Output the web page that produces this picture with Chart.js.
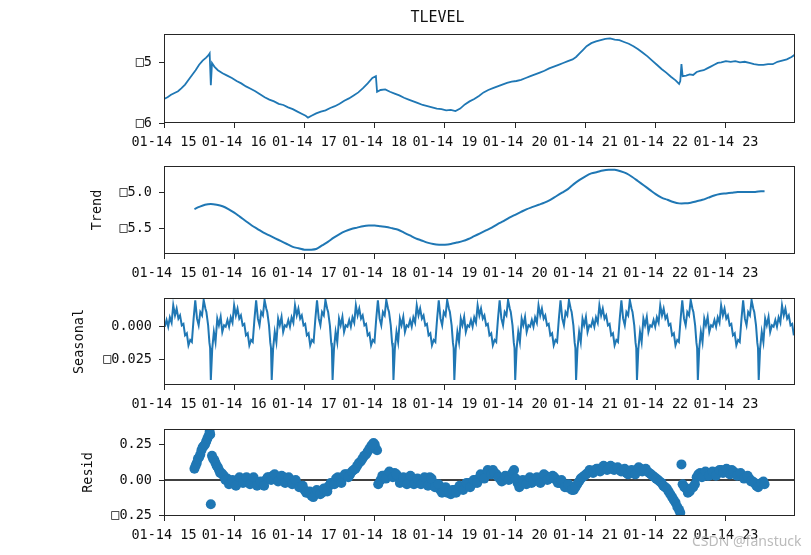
<!DOCTYPE html>
<html>
<head>
<meta charset="utf-8">
<script src="https://cdn.jsdelivr.net/npm/chart.js@4.4.0/dist/chart.umd.min.js"></script>
<style>
body { margin: 0; background: #fff; }
#wrap { position: relative; width: 811px; height: 555px; overflow: hidden; }
canvas { position: absolute; left: 0; }
#mark { position: absolute; left: 692px; top: 531px; font: 14px "Noto Sans"; color: rgba(175,175,175,0.85); }
</style>
</head>
<body>
<div id="wrap">
<canvas id="c1" width="811" height="153" style="top:0px"></canvas>
<canvas id="c2" width="811" height="134" style="top:150px"></canvas>
<canvas id="c3" width="811" height="133" style="top:282px"></canvas>
<canvas id="c4" width="811" height="133" style="top:413px"></canvas>
<div id="mark">CSDN @fanstuck</div>
</div>
<script>
// minutes since 01-14 15:00
const xTickMinutes = [0, 60, 120, 180, 240, 300, 360, 420, 480]
const xTickLabels = ['01-14 15', '01-14 16', '01-14 17', '01-14 18', '01-14 19', '01-14 20', '01-14 21', '01-14 22', '01-14 23']

const obsMinute = [0,3,6,9,12,15,18,21,24,27,30,33,36,38,39,40,41,43,46,50,54,58,62,66,70,74,78,82,86,90,94,98,102,106,110,114,118,121,123,126,130,134,138,142,146,150,154,158,162,166,170,174,178,181,182,185,189,193,197,201,205,209,213,217,221,225,229,233,237,241,245,249,253,257,261,265,269,273,277,281,285,289,293,297,301,305,309,313,317,321,325,329,333,337,341,345,349,352,355,358,361,365,369,373,377,381,385,389,393,397,401,405,409,413,417,421,425,429,433,437,440,441,442,443,446,449,452,455,458,461,464,467,470,473,476,480,484,488,492,496,500,504,508,512,516,520,524,528,532,536,539]
const obsLevel = [-5.60,-5.57,-5.53,-5.50,-5.47,-5.42,-5.36,-5.28,-5.20,-5.12,-5.03,-4.96,-4.91,-4.87,-4.84,-5.37,-5.00,-5.06,-5.12,-5.17,-5.21,-5.25,-5.30,-5.34,-5.39,-5.43,-5.47,-5.52,-5.57,-5.61,-5.64,-5.68,-5.70,-5.74,-5.77,-5.81,-5.85,-5.88,-5.91,-5.88,-5.84,-5.81,-5.79,-5.75,-5.72,-5.68,-5.63,-5.59,-5.54,-5.49,-5.42,-5.34,-5.25,-5.22,-5.48,-5.45,-5.44,-5.48,-5.51,-5.54,-5.58,-5.61,-5.64,-5.67,-5.70,-5.72,-5.74,-5.76,-5.77,-5.79,-5.78,-5.80,-5.76,-5.69,-5.64,-5.60,-5.55,-5.49,-5.45,-5.42,-5.39,-5.36,-5.33,-5.31,-5.30,-5.28,-5.25,-5.22,-5.19,-5.16,-5.13,-5.09,-5.06,-5.03,-5.00,-4.97,-4.94,-4.90,-4.84,-4.78,-4.72,-4.67,-4.64,-4.62,-4.60,-4.59,-4.61,-4.62,-4.65,-4.68,-4.72,-4.77,-4.83,-4.89,-4.96,-5.03,-5.10,-5.16,-5.23,-5.29,-5.35,-5.30,-5.02,-5.22,-5.21,-5.19,-5.20,-5.15,-5.13,-5.12,-5.09,-5.06,-5.03,-5.00,-4.99,-4.97,-4.98,-4.97,-4.99,-4.98,-5.00,-5.02,-5.03,-5.03,-5.02,-5.02,-4.98,-4.96,-4.94,-4.90,-4.86]

const trendMinute = [26,30,35,40,45,50,55,60,65,70,75,80,85,90,95,100,105,110,115,120,125,130,135,140,145,150,155,160,165,170,175,180,185,190,195,200,205,210,215,220,225,230,235,240,245,250,255,260,265,270,275,280,285,290,295,300,305,310,315,320,325,330,335,340,345,350,355,360,365,370,375,380,385,390,395,400,405,410,415,420,425,430,435,440,445,450,455,460,465,470,475,480,485,490,495,500,505,510,513]
const trendLevel = [-5.23,-5.20,-5.17,-5.16,-5.17,-5.19,-5.23,-5.28,-5.34,-5.40,-5.46,-5.51,-5.56,-5.60,-5.64,-5.68,-5.72,-5.76,-5.78,-5.80,-5.80,-5.79,-5.74,-5.69,-5.63,-5.58,-5.54,-5.51,-5.49,-5.47,-5.46,-5.46,-5.47,-5.48,-5.50,-5.52,-5.56,-5.60,-5.64,-5.67,-5.70,-5.72,-5.73,-5.73,-5.72,-5.70,-5.68,-5.65,-5.61,-5.57,-5.53,-5.49,-5.44,-5.40,-5.35,-5.31,-5.27,-5.23,-5.20,-5.17,-5.14,-5.10,-5.05,-5.00,-4.95,-4.88,-4.82,-4.77,-4.73,-4.71,-4.69,-4.68,-4.68,-4.70,-4.73,-4.78,-4.84,-4.90,-4.96,-5.02,-5.07,-5.10,-5.13,-5.15,-5.15,-5.14,-5.12,-5.10,-5.07,-5.04,-5.02,-5.01,-5.00,-4.99,-4.99,-4.99,-4.99,-4.98,-4.98]

// one 52-minute season, offsets measured from the sharp dip
const seasonPeriod = 52
const seasonFirstDip = 40
const seasonOffset = [0,1.2,2.6,4.0,5.5,6.9,8.4,9.8,11.3,12.7,14.2,15.6,17.0,18.5,19.9,21.4,22.8,24.3,25.7,27.2,28.6,30.0,31.5,32.9,34.4,35.8,37.3,38.7,40.2,41.6,43.0,44.5,45.9,47.4,48.2,49.7,50.8,51.4]
const seasonValue = [-0.040,-0.0165,-0.004,-0.0115,0.006,0.001,0.0073,-0.004,0.001,0.0,0.005,0.0,0.007,0.003,0.016,0.0085,0.0135,0.006,0.0085,0.001,0.002,-0.0065,-0.005,-0.014,-0.010,-0.0115,0.006,0.0198,0.006,0.001,0.011,0.0085,0.020,0.0135,0.011,0.001,-0.012,-0.016]

const residMinute = [26,28,30,32,34,36,38,39,40,41,43,45,47,49,51,54,57,60,63,66,69,72,75,78,81,84,87,90,93,96,99,102,105,108,111,114,117,120,123,126,129,132,135,138,141,144,147,150,153,156,159,162,165,168,171,174,177,179,180,181,182,183,185,188,191,194,197,200,203,206,209,212,215,218,221,224,227,230,233,236,239,242,245,248,251,254,257,260,263,266,269,272,275,278,281,284,287,290,293,296,299,302,305,308,311,314,317,320,323,326,329,332,335,338,341,344,347,350,353,356,359,362,365,368,371,374,377,380,383,386,389,392,395,398,401,404,407,410,413,416,419,422,425,428,431,434,437,440,441,442,443,446,449,452,455,458,461,464,467,470,473,476,479,482,485,488,491,494,497,500,503,506,509,512]
const residValue = [0.08,0.12,0.16,0.21,0.24,0.27,0.31,0.34,-0.17,0.17,0.14,0.10,0.07,0.05,0.03,0.01,-0.02,-0.03,-0.01,0.00,0.01,-0.01,0.00,-0.02,-0.03,-0.02,0.00,0.02,0.03,0.01,0.00,0.02,0.00,-0.01,-0.02,-0.03,-0.05,-0.07,-0.09,-0.11,-0.10,-0.08,-0.09,-0.06,-0.04,-0.02,0.01,0.00,0.02,0.04,0.04,0.07,0.10,0.13,0.17,0.20,0.24,0.26,0.25,0.22,0.21,-0.03,0.00,0.03,0.04,0.04,0.05,0.02,0.00,-0.01,0.01,0.00,-0.02,-0.01,0.00,-0.02,0.02,-0.02,-0.05,-0.07,-0.06,-0.09,-0.10,-0.07,-0.06,-0.05,-0.04,-0.02,-0.03,0.00,0.01,0.03,0.04,0.06,0.07,0.04,0.01,0.00,0.02,0.03,0.07,-0.02,-0.03,-0.01,0.00,-0.02,0.01,0.00,0.02,0.03,0.01,0.03,0.00,-0.02,-0.03,-0.05,-0.06,-0.07,-0.03,0.01,0.03,0.05,0.06,0.07,0.08,0.08,0.09,0.08,0.09,0.08,0.07,0.07,0.05,0.06,0.05,0.07,0.08,0.07,0.06,0.04,0.02,0.00,-0.02,-0.05,-0.08,-0.12,-0.16,-0.21,-0.23,0.11,-0.03,-0.06,-0.08,-0.05,0.02,0.05,0.04,0.03,0.05,0.04,0.06,0.07,0.06,0.05,0.07,0.05,0.04,0.03,0.02,0.01,-0.01,-0.04,-0.03,-0.01]
// the in-between minutes that make the residual band thick
const residMinuteB = [27,29,31,33,35,37,39.5,42,44,46,48,50,52.5,55.5,58.5,61.5,64.5,67.5,70.5,73.5,76.5,79.5,82.5,85.5,88.5,91.5,94.5,97.5,100.5,103.5,106.5,109.5,112.5,115.5,118.5,121.5,124.5,127.5,130.5,133.5,136.5,139.5,142.5,145.5,148.5,151.5,154.5,157.5,160.5,163.5,166.5,169.5,172.5,175.5,178,186.5,189.5,192.5,195.5,198.5,201.5,204.5,207.5,210.5,213.5,216.5,219.5,222.5,225.5,228.5,231.5,234.5,237.5,240.5,243.5,246.5,249.5,252.5,255.5,258.5,261.5,264.5,267.5,270.5,273.5,276.5,279.5,282.5,285.5,288.5,291.5,294.5,297.5,300.5,303.5,306.5,309.5,312.5,315.5,318.5,321.5,324.5,327.5,330.5,333.5,336.5,339.5,342.5,345.5,348.5,351.5,354.5,357.5,360.5,363.5,366.5,369.5,372.5,375.5,378.5,381.5,384.5,387.5,390.5,393.5,396.5,399.5,402.5,405.5,408.5,411.5,414.5,417.5,420.5,423.5,426.5,429.5,432.5,435.5,438.5,444.5,447.5,450.5,453.5,456.5,459.5,462.5,465.5,468.5,471.5,474.5,477.5,480.5,483.5,486.5,489.5,492.5,495.5,498.5,501.5,504.5,507.5,510.5,513]
const residValueB = [0.10,0.15,0.18,0.23,0.25,0.29,0.32,0.15,0.12,0.09,0.05,0.04,0.00,-0.03,0.00,-0.04,0.02,-0.02,0.02,-0.03,0.02,-0.04,-0.01,-0.04,0.02,0.00,0.04,-0.01,0.03,-0.02,0.02,-0.03,0.00,-0.05,-0.04,-0.09,-0.08,-0.12,-0.07,-0.10,-0.06,-0.08,-0.02,-0.03,0.02,-0.02,0.04,0.02,0.06,0.08,0.12,0.15,0.18,0.22,0.25,0.03,0.01,0.06,0.02,0.04,-0.02,0.02,-0.03,0.03,-0.03,0.01,-0.03,0.02,-0.04,0.01,-0.05,-0.03,-0.09,-0.05,-0.08,-0.07,-0.09,-0.04,-0.07,-0.02,-0.05,0.00,-0.02,0.04,0.01,0.07,0.04,0.05,0.02,-0.01,0.03,0.00,0.05,0.01,-0.05,0.00,-0.03,0.02,-0.01,0.02,-0.02,0.04,0.00,0.02,0.02,-0.02,0.00,-0.05,-0.03,-0.07,-0.05,-0.01,0.02,0.04,0.07,0.05,0.08,0.06,0.10,0.07,0.10,0.07,0.09,0.06,0.08,0.04,0.07,0.04,0.09,0.06,0.08,0.05,0.03,0.01,-0.01,-0.04,-0.06,-0.10,-0.14,-0.19,-0.05,-0.09,-0.06,-0.03,0.04,0.02,0.06,0.03,0.06,0.03,0.07,0.05,0.08,0.04,0.06,0.03,0.05,0.01,0.03,-0.01,-0.02,-0.05,-0.02,-0.03]

const blue = '#1f77b4'
const xEnd = 539

function pts(xs, ys) {
    return xs.map((x, i) => ({x: x, y: ys[i]}))
}

function seasonalPts() {
    const out = []
    for (let k = -1; k < 11; k++) {
        seasonOffset.forEach((o, i) => {
            const t = seasonFirstDip + k * seasonPeriod + o
            if (t >= 0 && t <= xEnd) out.push({x: t, y: seasonValue[i]})
        })
    }
    return out
}

const frame = {
    id: 'frame',
    afterDatasetsDraw(chart) {
        const a = chart.chartArea, ctx = chart.ctx
        ctx.save()
        ctx.strokeStyle = '#262626'
        ctx.lineWidth = 1
        ctx.strokeRect(Math.round(a.left) + 0.5, Math.round(a.top) + 0.5, Math.round(a.right - a.left) - 1, Math.round(a.bottom - a.top) - 1)
        ctx.restore()
    }
}

const tickFont = {family: 'DejaVu Sans Mono', size: 13.5}

function makePanel(id, p, datasets, title) {
    const ctx = document.getElementById(id).getContext('2d')
    return new Chart(ctx, {
        type: 'scatter',
        data: {datasets: datasets},
        plugins: [frame],
        options: {
            responsive: false,
            animation: false,
            devicePixelRatio: 1,
            layout: {padding: {top: p.padTop, left: p.padLeft, right: 16, bottom: 0}},
            plugins: {
                legend: {display: false},
                tooltip: {enabled: false},
                title: title ? {
                    display: true, text: title, color: '#111',
                    font: {family: 'DejaVu Sans Mono', size: 15, weight: 'normal'},
                    padding: {top: 9, bottom: 7}
                } : {display: false}
            },
            scales: {
                x: {
                    type: 'linear', min: 0, max: xEnd,
                    border: {display: false},
                    grid: {display: true, drawOnChartArea: false, drawTicks: true, tickLength: 5, color: '#262626'},
                    afterBuildTicks: (s) => { s.ticks = xTickMinutes.map(v => ({value: v})) },
                    afterFit: (s) => { s.height = 30 },
                    ticks: {
                        color: '#111', font: tickFont, padding: 6, maxRotation: 0, autoSkip: false,
                        callback: (v, i) => xTickLabels[i]
                    }
                },
                y: {
                    type: 'linear', min: p.yMin, max: p.yMax,
                    border: {display: false},
                    grid: {display: true, drawOnChartArea: false, drawTicks: true, tickLength: 5, color: '#262626'},
                    afterBuildTicks: (s) => { s.ticks = p.yTicks.map(v => ({value: v})) },
                    afterFit: (s) => { s.width = 164 - p.padLeft },
                    ticks: {
                        color: '#111', font: tickFont, padding: 7, autoSkip: false,
                        callback: (v, i) => p.yLabels[i]
                    },
                    title: p.yTitle ? {
                        display: true, text: p.yTitle, color: '#111',
                        font: tickFont, padding: 0
                    } : {display: false}
                }
            }
        }
    })
}

function lineSet(data, width) {
    return {data: data, showLine: true, borderColor: blue, borderWidth: width, pointRadius: 0, tension: 0}
}

makePanel('c1', {
    padTop: 0, padLeft: 80, yMin: -6.0, yMax: -4.517,
    yTicks: [-6, -5], yLabels: ['\u25A16', '\u25A15']
}, [lineSet(pts(obsMinute, obsLevel), 1.8)], 'TLEVEL')

const trendSet = lineSet(pts(trendMinute, trendLevel), 2)
trendSet.tension = 0.3
makePanel('c2', {
    padTop: 16, padLeft: 89, yMin: -5.86, yMax: -4.626,
    yTicks: [-5.5, -5.0], yLabels: ['\u25A15.5', '\u25A15.0'], yTitle: 'Trend'
}, [trendSet])

makePanel('c3', {
    padTop: 16, padLeft: 71, yMin: -0.0438, yMax: 0.0215,
    yTicks: [-0.025, 0], yLabels: ['\u25A10.025', '0.000'], yTitle: 'Seasonal'
}, [lineSet(seasonalPts(), 2)])

makePanel('c4', {
    padTop: 16, padLeft: 80, yMin: -0.253, yMax: 0.359,
    yTicks: [-0.25, 0, 0.25], yLabels: ['\u25A10.25', '0.00', '0.25'], yTitle: 'Resid'
}, [
    {data: pts(residMinute, residValue).concat(pts(residMinuteB, residValueB)), backgroundColor: blue, borderWidth: 0, pointRadius: 5},
    {data: [{x: 0, y: 0}, {x: xEnd, y: 0}], showLine: true, borderColor: '#000', borderWidth: 1.6, pointRadius: 0}
])
</script>
</body>
</html>
